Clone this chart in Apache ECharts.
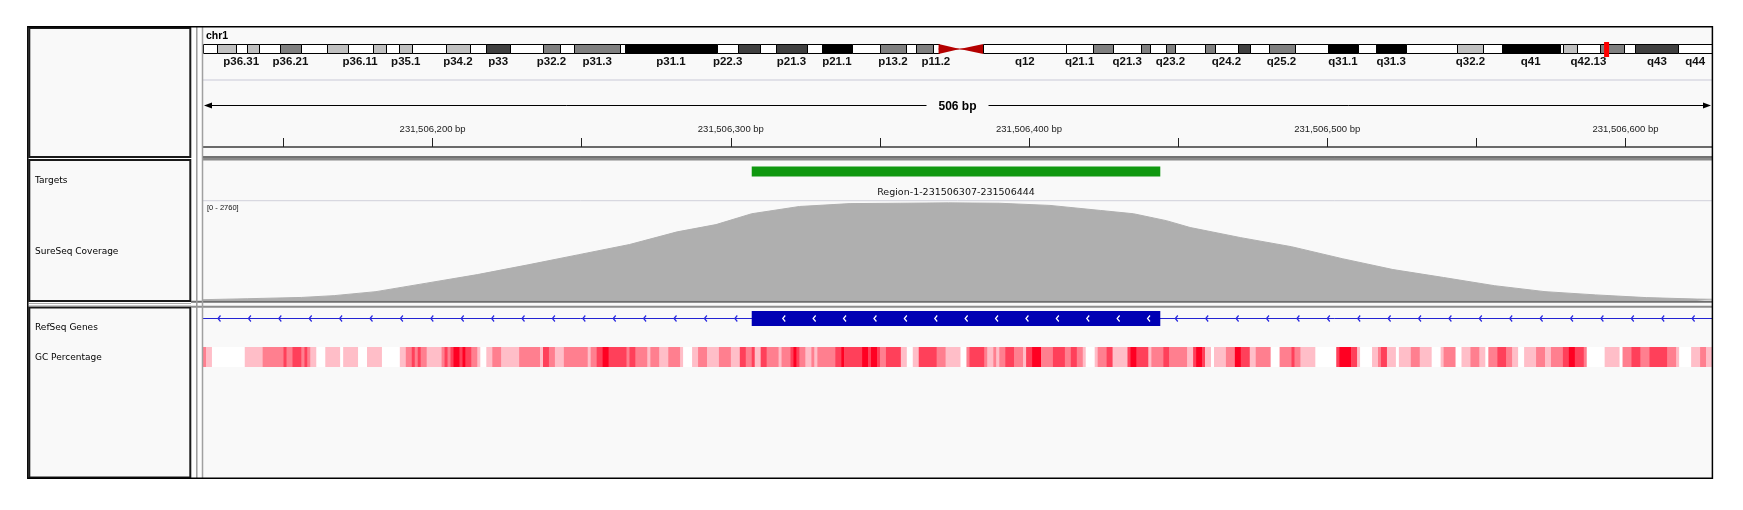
<!DOCTYPE html>
<html>
<head>
<meta charset="utf-8">
<script src="https://cdn.jsdelivr.net/npm/echarts@6/dist/echarts.min.js"></script>
<style>
  html, body { margin: 0; padding: 0; background: #fff; }
  #main { width: 1743px; height: 510px; }
</style>
</head>
<body>
<div id="main"></div>
<script>
// chr1 ideogram (hg19 cytobands)
const chrName = "chr1"
const chrLength = 249250621
const bandNames = ["p36.33", "p36.32", "p36.31", "p36.23", "p36.22", "p36.21", "p36.13", "p36.12", "p36.11", "p35.3", "p35.2", "p35.1", "p34.3", "p34.2", "p34.1", "p33", "p32.3", "p32.2", "p32.1", "p31.3", "p31.2", "p31.1", "p22.3", "p22.2", "p22.1", "p21.3", "p21.2", "p21.1", "p13.3", "p13.2", "p13.1", "p12", "p11.2", "p11.1", "q11", "q12", "q21.1", "q21.2", "q21.3", "q22", "q23.1", "q23.2", "q23.3", "q24.1", "q24.2", "q24.3", "q25.1", "q25.2", "q25.3", "q31.1", "q31.2", "q31.3", "q32.1", "q32.2", "q32.3", "q41", "q42.11", "q42.12", "q42.13", "q42.2", "q42.3", "q43", "q44"]
const bandStarts = [0, 2300000, 5400000, 7200000, 9200000, 12700000, 16200000, 20400000, 23900000, 28000000, 30200000, 32400000, 34600000, 40100000, 44100000, 46800000, 50700000, 56100000, 59000000, 61300000, 68900000, 69700000, 84900000, 88400000, 92000000, 94700000, 99700000, 102200000, 107200000, 111800000, 116100000, 117800000, 120600000, 121500000, 125000000, 128900000, 142600000, 147000000, 150300000, 155000000, 156500000, 159100000, 160500000, 165500000, 167200000, 170900000, 172900000, 176000000, 180300000, 185800000, 190800000, 193800000, 198700000, 207200000, 211500000, 214500000, 224100000, 224600000, 227000000, 230700000, 234700000, 236600000, 243700000]
const bandStains = ["gneg", "gpos25", "gneg", "gpos25", "gneg", "gpos50", "gneg", "gpos25", "gneg", "gpos25", "gneg", "gpos25", "gneg", "gpos25", "gneg", "gpos75", "gneg", "gpos50", "gneg", "gpos50", "gneg", "gpos100", "gneg", "gpos75", "gneg", "gpos75", "gneg", "gpos100", "gneg", "gpos50", "gneg", "gpos50", "gneg", "acen", "acen", "gvar", "gneg", "gpos50", "gneg", "gpos50", "gneg", "gpos50", "gneg", "gpos50", "gneg", "gpos75", "gneg", "gpos50", "gneg", "gpos100", "gneg", "gpos100", "gneg", "gpos25", "gneg", "gpos100", "gneg", "gpos25", "gneg", "gpos50", "gneg", "gpos75", "gneg"]
// 图上实际显示出来的带名
const shownBands = ["p36.31", "p36.21", "p36.11", "p35.1", "p34.2", "p33", "p32.2", "p31.3", "p31.1", "p22.3", "p21.3", "p21.1", "p13.2", "p11.2", "q12", "q21.1", "q21.3", "q23.2", "q24.2", "q25.2", "q31.1", "q31.3", "q32.2", "q41", "q42.13", "q43", "q44"]

// current view
const viewStart = 231506123
const viewEnd = 231506629
const rulerTicks = [231506150, 231506200, 231506250, 231506300, 231506350, 231506400, 231506450, 231506500, 231506550, 231506600]
const rulerLabels = [231506200, 231506300, 231506400, 231506500, 231506600]

// Targets track
const targetStarts = [231506307]
const targetEnds = [231506444]
const targetNames = ["Region-1-231506307-231506444"]

// SureSeq coverage (offset from viewStart in bp, depth)
const coverageMax = 2760
const covOffsets = [0, 15, 33, 44, 58, 75, 92, 109, 126, 143, 159, 172, 184, 200, 217, 234, 250, 267, 284, 301, 312, 323, 331, 348, 365, 382, 399, 416, 433, 450, 467, 484, 501, 506]
const covDepth = [28, 55, 90, 140, 250, 485, 720, 990, 1270, 1550, 1900, 2100, 2400, 2600, 2680, 2690, 2700, 2690, 2630, 2490, 2400, 2210, 2020, 1740, 1490, 1160, 860, 640, 415, 250, 160, 85, 45, 40]

// RefSeq gene
const geneName = "EGLN1"
const geneStart = 231499497
const geneEnd = 231560790
const exonStarts = [231506307]
const exonEnds = [231506444]

// GC percentage segments (offset from viewStart in bp, colour level 0-4)
const gcOffsets = [0, 1, 3, 14, 20, 27, 28, 30, 33, 34, 35, 36, 38, 41, 46, 47, 52, 55, 60, 66, 68, 70, 71, 72, 73, 75, 80, 81, 82, 83, 84, 86, 87, 88, 90, 92, 93, 95, 97, 100, 106, 113, 114, 116, 118, 121, 129, 130, 132, 134, 136, 142, 143, 145, 149, 150, 153, 156, 160, 161, 164, 166, 169, 173, 177, 180, 182, 184, 185, 187, 189, 193, 194, 197, 198, 199, 200, 202, 204, 205, 206, 212, 214, 215, 221, 223, 224, 226, 227, 229, 234, 236, 238, 240, 246, 249, 254, 256, 257, 262, 263, 265, 266, 267, 269, 272, 275, 276, 278, 281, 285, 289, 291, 293, 295, 296, 299, 300, 303, 305, 310, 311, 313, 317, 318, 322, 324, 330, 332, 333, 335, 336, 338, 339, 343, 346, 348, 351, 353, 358, 361, 365, 366, 368, 373, 380, 381, 385, 387, 388, 392, 394, 395, 397, 400, 401, 405, 408, 412, 415, 416, 420, 422, 425, 428, 430, 431, 434, 437, 439, 441, 443, 447, 450, 452, 456, 458, 460, 463, 464, 470, 475, 476, 479, 482, 485, 491, 494, 495, 499, 502, 504]
const gcLevels = [2, 1, 0, 1, 2, 3, 2, 3, 2, 3, 2, 1, 0, 1, 0, 1, 0, 1, 0, 1, 2, 3, 2, 3, 2, 1, 2, 3, 2, 3, 4, 3, 4, 3, 2, 1, 0, 1, 2, 1, 2, 1, 3, 2, 1, 2, 1, 2, 3, 4, 3, 2, 3, 2, 1, 2, 1, 2, 1, 0, 1, 2, 1, 2, 1, 3, 2, 3, 1, 3, 2, 1, 2, 3, 4, 3, 2, 1, 2, 1, 2, 3, 4, 3, 4, 3, 4, 3, 2, 3, 1, 0, 1, 3, 2, 1, 0, 2, 3, 2, 1, 2, 1, 2, 3, 2, 1, 3, 4, 2, 3, 2, 3, 2, 1, 0, 1, 2, 3, 1, 3, 4, 3, 1, 2, 3, 2, 1, 3, 4, 3, 1, 0, 1, 2, 4, 3, 1, 2, 0, 2, 3, 2, 1, 0, 3, 4, 3, 1, 0, 1, 2, 3, 1, 0, 1, 2, 1, 0, 1, 2, 0, 1, 2, 1, 0, 2, 3, 2, 1, 0, 1, 2, 1, 2, 3, 4, 3, 2, 0, 1, 0, 2, 3, 2, 3, 2, 1, 0, 1, 2, 1]

const trackLabels = ["Targets", "SureSeq Coverage", "RefSeq Genes", "GC Percentage"]

// ---------------- styles ----------------
const stainColors = { gneg: "#ffffff", gvar: "#ffffff", gpos25: "#c0c0c0", gpos50: "#808080", gpos75: "#404040", gpos100: "#000000", acen: "#b40000" }
const gcColors = ["#ffffff", "#ffbec8", "#ff7f8f", "#ff405a", "#ff0022"]
const panelBg = "#f9f9f9"
const DL = 203 // data panel left
const DR = 1712 // data panel right
const DW = DR - DL

const chart = echarts.init(document.getElementById("main"), null, { renderer: "canvas" })

function renderBand(params, api) {
  const i = params.dataIndex
  const top = api.coord([api.value(0), 1])
  const bot = api.coord([api.value(1), 0])
  const x0 = top[0], x1 = bot[0], y0 = top[1], y1 = bot[1]
  const stain = bandStains[i]
  const children = []
  if (stain === "acen") {
    const mid = (y0 + y1) / 2
    const pts = bandNames[i][0] === "p" ? [[x0, y0], [x1, mid], [x0, y1]] : [[x1, y0], [x0, mid], [x1, y1]]
    children.push({ type: "polygon", shape: { points: pts }, style: { fill: stainColors.acen } })
    children.push({ type: "line", shape: { x1: x0, y1: mid, x2: x1, y2: mid }, style: { stroke: stainColors.acen, lineWidth: 1 } })
  } else {
    children.push({
      type: "rect",
      shape: { x: Math.round(x0) + 0.5, y: y0 + 0.5, width: Math.max(1, Math.round(x1) - Math.round(x0)), height: y1 - y0 - 1 },
      style: { fill: stainColors[stain], stroke: "#000", lineWidth: 1 }
    })
  }
  if (shownBands.indexOf(bandNames[i]) >= 0) {
    children.push({
      type: "text",
      style: {
        text: bandNames[i], x: (x0 + x1) / 2, y: y1 + 7.5, align: "center", verticalAlign: "middle",
        fontFamily: "Liberation Sans", fontWeight: "bold", fontSize: 11.5, fill: "#111"
      }
    })
  }
  return { type: "group", children }
}

function renderMarker(params, api) {
  const a = api.coord([api.value(0), 1])
  const b = api.coord([api.value(1), 0])
  const w = Math.max(5, b[0] - a[0])
  return { type: "rect", shape: { x: a[0] - 0.5, y: a[1] - 2, width: w, height: b[1] - a[1] + 5 }, style: { fill: "#ff0000" } }
}

function renderSpan(params, api) {
  const cs = params.coordSys
  const x0 = api.coord([api.value(0), 0])[0]
  const x1 = api.coord([api.value(1), 0])[0]
  const y = cs.y + 20.5
  const mid = (x0 + x1) / 2
  const len = api.value(1) - api.value(0)
  return {
    type: "group",
    children: [
      { type: "line", shape: { x1: x0 + 4, y1: y, x2: mid - 31, y2: y }, style: { stroke: "#000", lineWidth: 1 } },
      { type: "line", shape: { x1: mid + 31, y1: y, x2: x1 - 4, y2: y }, style: { stroke: "#000", lineWidth: 1 } },
      { type: "polygon", shape: { points: [[x0 + 1, y], [x0 + 9, y - 3], [x0 + 9, y + 3]] }, style: { fill: "#000" } },
      { type: "polygon", shape: { points: [[x1 - 1, y], [x1 - 9, y - 3], [x1 - 9, y + 3]] }, style: { fill: "#000" } },
      {
        type: "text",
        style: { text: len + " bp", x: mid, y: y + 1, align: "center", verticalAlign: "middle", fontFamily: "Liberation Sans", fontWeight: "bold", fontSize: 12, fill: "#000" }
      }
    ]
  }
}

function renderTarget(params, api) {
  const a = api.coord([api.value(0), 1])
  const b = api.coord([api.value(1), 0])
  return {
    type: "group",
    children: [
      { type: "rect", shape: { x: a[0], y: a[1], width: b[0] - a[0], height: b[1] - a[1] }, style: { fill: "#109810" } },
      {
        type: "text",
        style: { text: targetNames[params.dataIndex], x: (a[0] + b[0]) / 2, y: b[1] + 16, align: "center", verticalAlign: "middle", fontFamily: "DejaVu Sans", fontSize: 9.5, fill: "#111" }
      }
    ]
  }
}

function chevron(x, y, color) {
  return { type: "polyline", shape: { points: [[x + 2.5, y - 3], [x, y], [x + 2.5, y + 3]] }, style: { stroke: color, lineWidth: 1.2, fill: null } }
}

function renderGene(params, api) {
  const cs = params.coordSys
  const gx0 = Math.max(api.coord([geneStart, 0])[0], cs.x)
  const gx1 = Math.min(api.coord([geneEnd, 0])[0], cs.x + cs.width)
  const y = cs.y + cs.height / 2
  const children = [{ type: "line", shape: { x1: gx0, y1: y, x2: gx1, y2: y }, style: { stroke: "#2323d2", lineWidth: 1 } }]
  const step = 30.4
  let prev = gx0
  const segs = []
  exonStarts.forEach((s, k) => {
    const ex0 = api.coord([s, 0])[0]
    const ex1 = api.coord([exonEnds[k], 0])[0]
    segs.push([prev, ex0])
    prev = ex1
    children.push({ type: "rect", shape: { x: ex0, y: cs.y, width: ex1 - ex0, height: cs.height }, style: { fill: "#0000b4" } })
    for (let x = ex0 + 31; x < ex1 - 8; x += step) children.push(chevron(x, y, "#ffffff"))
    if (k === 0) {
      children.push({
        type: "text",
        style: { text: geneName, x: (ex0 + ex1) / 2, y: cs.y + cs.height + 14, align: "center", verticalAlign: "middle", fontFamily: "DejaVu Sans", fontSize: 9.5, fill: "#111" }
      })
    }
  })
  segs.push([prev, gx1])
  segs.forEach(([a, b]) => {
    for (let x = a + 15; x < b - 5; x += step) children.push(chevron(x, y, "#2a2ae0"))
  })
  return { type: "group", children }
}

function renderGc(params, api) {
  const a = api.coord([api.value(0), 1])
  const b = api.coord([api.value(1), 0])
  return {
    type: "rect",
    shape: { x: a[0], y: a[1], width: b[0] - a[0] + 0.5, height: b[1] - a[1] },
    style: { fill: gcColors[api.value(2)] }
  }
}

const bandData = bandStarts.map((s, i) => [s, i + 1 < bandStarts.length ? bandStarts[i + 1] : chrLength])
const gcData = gcOffsets.map((o, i) => [viewStart + o, viewStart + (i + 1 < gcOffsets.length ? gcOffsets[i + 1] : viewEnd - viewStart), gcLevels[i]])
const covData = covOffsets.map((o, i) => [viewStart + o, covDepth[i]])

// grid layout (pixels)
const grids = [
  { left: DL, top: 44, width: DW, height: 10 }, // ideogram
  { left: DL, top: 85, width: DW, height: 62 }, // ruler
  { left: DL, top: 166.5, width: DW, height: 10 }, // targets
  { left: DL, top: 200.7, width: DW, height: 100 }, // coverage
  { left: DL, top: 311, width: DW, height: 15 }, // gene
  { left: DL, top: 347, width: DW, height: 20 } // gc
]

const hiddenX = (gi, min, max) => ({ gridIndex: gi, type: "value", min, max, show: false })
const hiddenY = (gi, max) => ({ gridIndex: gi, type: "value", min: 0, max, show: false })

const textStyle = (text, x, y) => ({
  type: "text", z: 50,
  style: { text, x, y, verticalAlign: "middle", fontFamily: "DejaVu Sans", fontSize: 9, fill: "#000" }
})

const option = {
  animation: false,
  backgroundColor: "#ffffff",
  grid: grids,
  xAxis: [
    hiddenX(0, 0, chrLength),
    {
      gridIndex: 1, type: "value", min: viewStart, max: viewEnd, position: "bottom",
      axisLine: { show: true, onZero: false, lineStyle: { color: "#6a6a6a", width: 2 } },
      axisTick: { show: true, inside: true, length: 9, customValues: rulerTicks, lineStyle: { color: "#222", width: 1 } },
      axisLabel: {
        show: true, inside: true, margin: 13, customValues: rulerLabels,
        formatter: (v) => Number(v).toLocaleString("en-US") + " bp",
        fontFamily: "Liberation Sans", fontSize: 9.5, color: "#222"
      },
      splitLine: { show: false }
    },
    hiddenX(2, viewStart, viewEnd),
    hiddenX(3, viewStart, viewEnd),
    hiddenX(4, viewStart, viewEnd),
    hiddenX(5, viewStart, viewEnd)
  ],
  yAxis: [hiddenY(0, 1), hiddenY(1, 1), hiddenY(2, 1), hiddenY(3, coverageMax), hiddenY(4, 1), hiddenY(5, 1)],
  graphic: [
    // panel backgrounds
    { type: "rect", z: -10, shape: { x: DL, y: 27, width: DW, height: 451 }, style: { fill: panelBg } },
    { type: "rect", z: -10, shape: { x: 191, y: 27, width: 12, height: 451 }, style: { fill: "#fdfdfd" } },
    { type: "rect", z: -5, shape: { x: 29.3, y: 28, width: 161, height: 129 }, style: { fill: panelBg, stroke: "#1a1a1a", lineWidth: 2 } },
    { type: "rect", z: -5, shape: { x: 29.3, y: 160, width: 161, height: 141 }, style: { fill: panelBg, stroke: "#1a1a1a", lineWidth: 2 } },
    { type: "rect", z: -5, shape: { x: 29.3, y: 307.5, width: 161, height: 170 }, style: { fill: panelBg, stroke: "#1a1a1a", lineWidth: 2 } },
    { type: "line", z: 40, shape: { x1: 29, y1: 303.5, x2: 191, y2: 303.5 }, style: { stroke: "#a8a8a8", lineWidth: 1 } },
    { type: "line", z: 40, shape: { x1: 29, y1: 305.5, x2: 191, y2: 305.5 }, style: { stroke: "#c8c8c8", lineWidth: 1 } },
    // data side separators
    { type: "line", z: 40, shape: { x1: DL, y1: 80, x2: DR, y2: 80 }, style: { stroke: "#d9d9e2", lineWidth: 1.5 } },
    { type: "line", z: 1, shape: { x1: DL, y1: 200.7, x2: DR, y2: 200.7 }, style: { stroke: "#d0d0da", lineWidth: 1 } },
    { type: "rect", z: 40, shape: { x: DL, y: 156, width: DW, height: 4.5 }, style: { fill: "#8a8a8a" } },
    { type: "line", z: 41, shape: { x1: DL, y1: 157, x2: DR, y2: 157 }, style: { stroke: "#5a5a5a", lineWidth: 1 } },
    { type: "line", z: 40, shape: { x1: 191, y1: 301.8, x2: DR, y2: 301.8 }, style: { stroke: "#6e6e6e", lineWidth: 2 } },
    { type: "line", z: 40, shape: { x1: 191, y1: 306.8, x2: DR, y2: 306.8 }, style: { stroke: "#8c8c8c", lineWidth: 2 } },
    // vertical divider
    { type: "line", z: 40, shape: { x1: 196.8, y1: 27, x2: 196.8, y2: 478 }, style: { stroke: "#9a9a9a", lineWidth: 1.5 } },
    { type: "line", z: 40, shape: { x1: 202.5, y1: 27, x2: 202.5, y2: 478 }, style: { stroke: "#a0a0a0", lineWidth: 1.5 } },
    // outer frame
    { type: "rect", z: 45, shape: { x: 27.8, y: 26.8, width: 1684.6, height: 451.4 }, style: { fill: null, stroke: "#000", lineWidth: 1.5 } },
    // texts
    { type: "text", z: 50, style: { text: chrName, x: 206, y: 36, verticalAlign: "middle", fontFamily: "Liberation Sans", fontWeight: "bold", fontSize: 10.5, fill: "#000" } },
    { type: "text", z: 50, style: { text: "[0 - " + coverageMax + "]", x: 207, y: 207.5, verticalAlign: "middle", fontFamily: "Liberation Sans", fontSize: 7.5, fill: "#111" } },
    textStyle(trackLabels[0], 35, 181),
    textStyle(trackLabels[1], 35, 252),
    textStyle(trackLabels[2], 35, 328),
    textStyle(trackLabels[3], 35, 357.5)
  ],
  series: [
    { type: "custom", xAxisIndex: 0, yAxisIndex: 0, renderItem: renderBand, data: bandData, encode: { x: [0, 1] }, silent: true },
    { type: "custom", xAxisIndex: 0, yAxisIndex: 0, renderItem: renderMarker, data: [[viewStart, viewEnd]], encode: { x: [0, 1] }, z: 5, silent: true },
    { type: "custom", xAxisIndex: 1, yAxisIndex: 1, renderItem: renderSpan, data: [[viewStart, viewEnd]], encode: { x: [0, 1] }, silent: true },
    { type: "custom", xAxisIndex: 2, yAxisIndex: 2, renderItem: renderTarget, data: targetStarts.map((s, i) => [s, targetEnds[i]]), encode: { x: [0, 1] }, silent: true },
    {
      type: "line", xAxisIndex: 3, yAxisIndex: 3, data: covData, symbol: "none", silent: true,
      lineStyle: { color: "#afafaf", width: 1 }, areaStyle: { color: "#afafaf", opacity: 1 }
    },
    { type: "custom", xAxisIndex: 4, yAxisIndex: 4, renderItem: renderGene, data: [[geneStart, geneEnd]], encode: { x: [0, 1] }, clip: true, silent: true },
    { type: "custom", xAxisIndex: 5, yAxisIndex: 5, renderItem: renderGc, data: gcData, encode: { x: [0, 1] }, clip: true, silent: true }
  ]
}

chart.setOption(option)
</script>
</body>
</html>
